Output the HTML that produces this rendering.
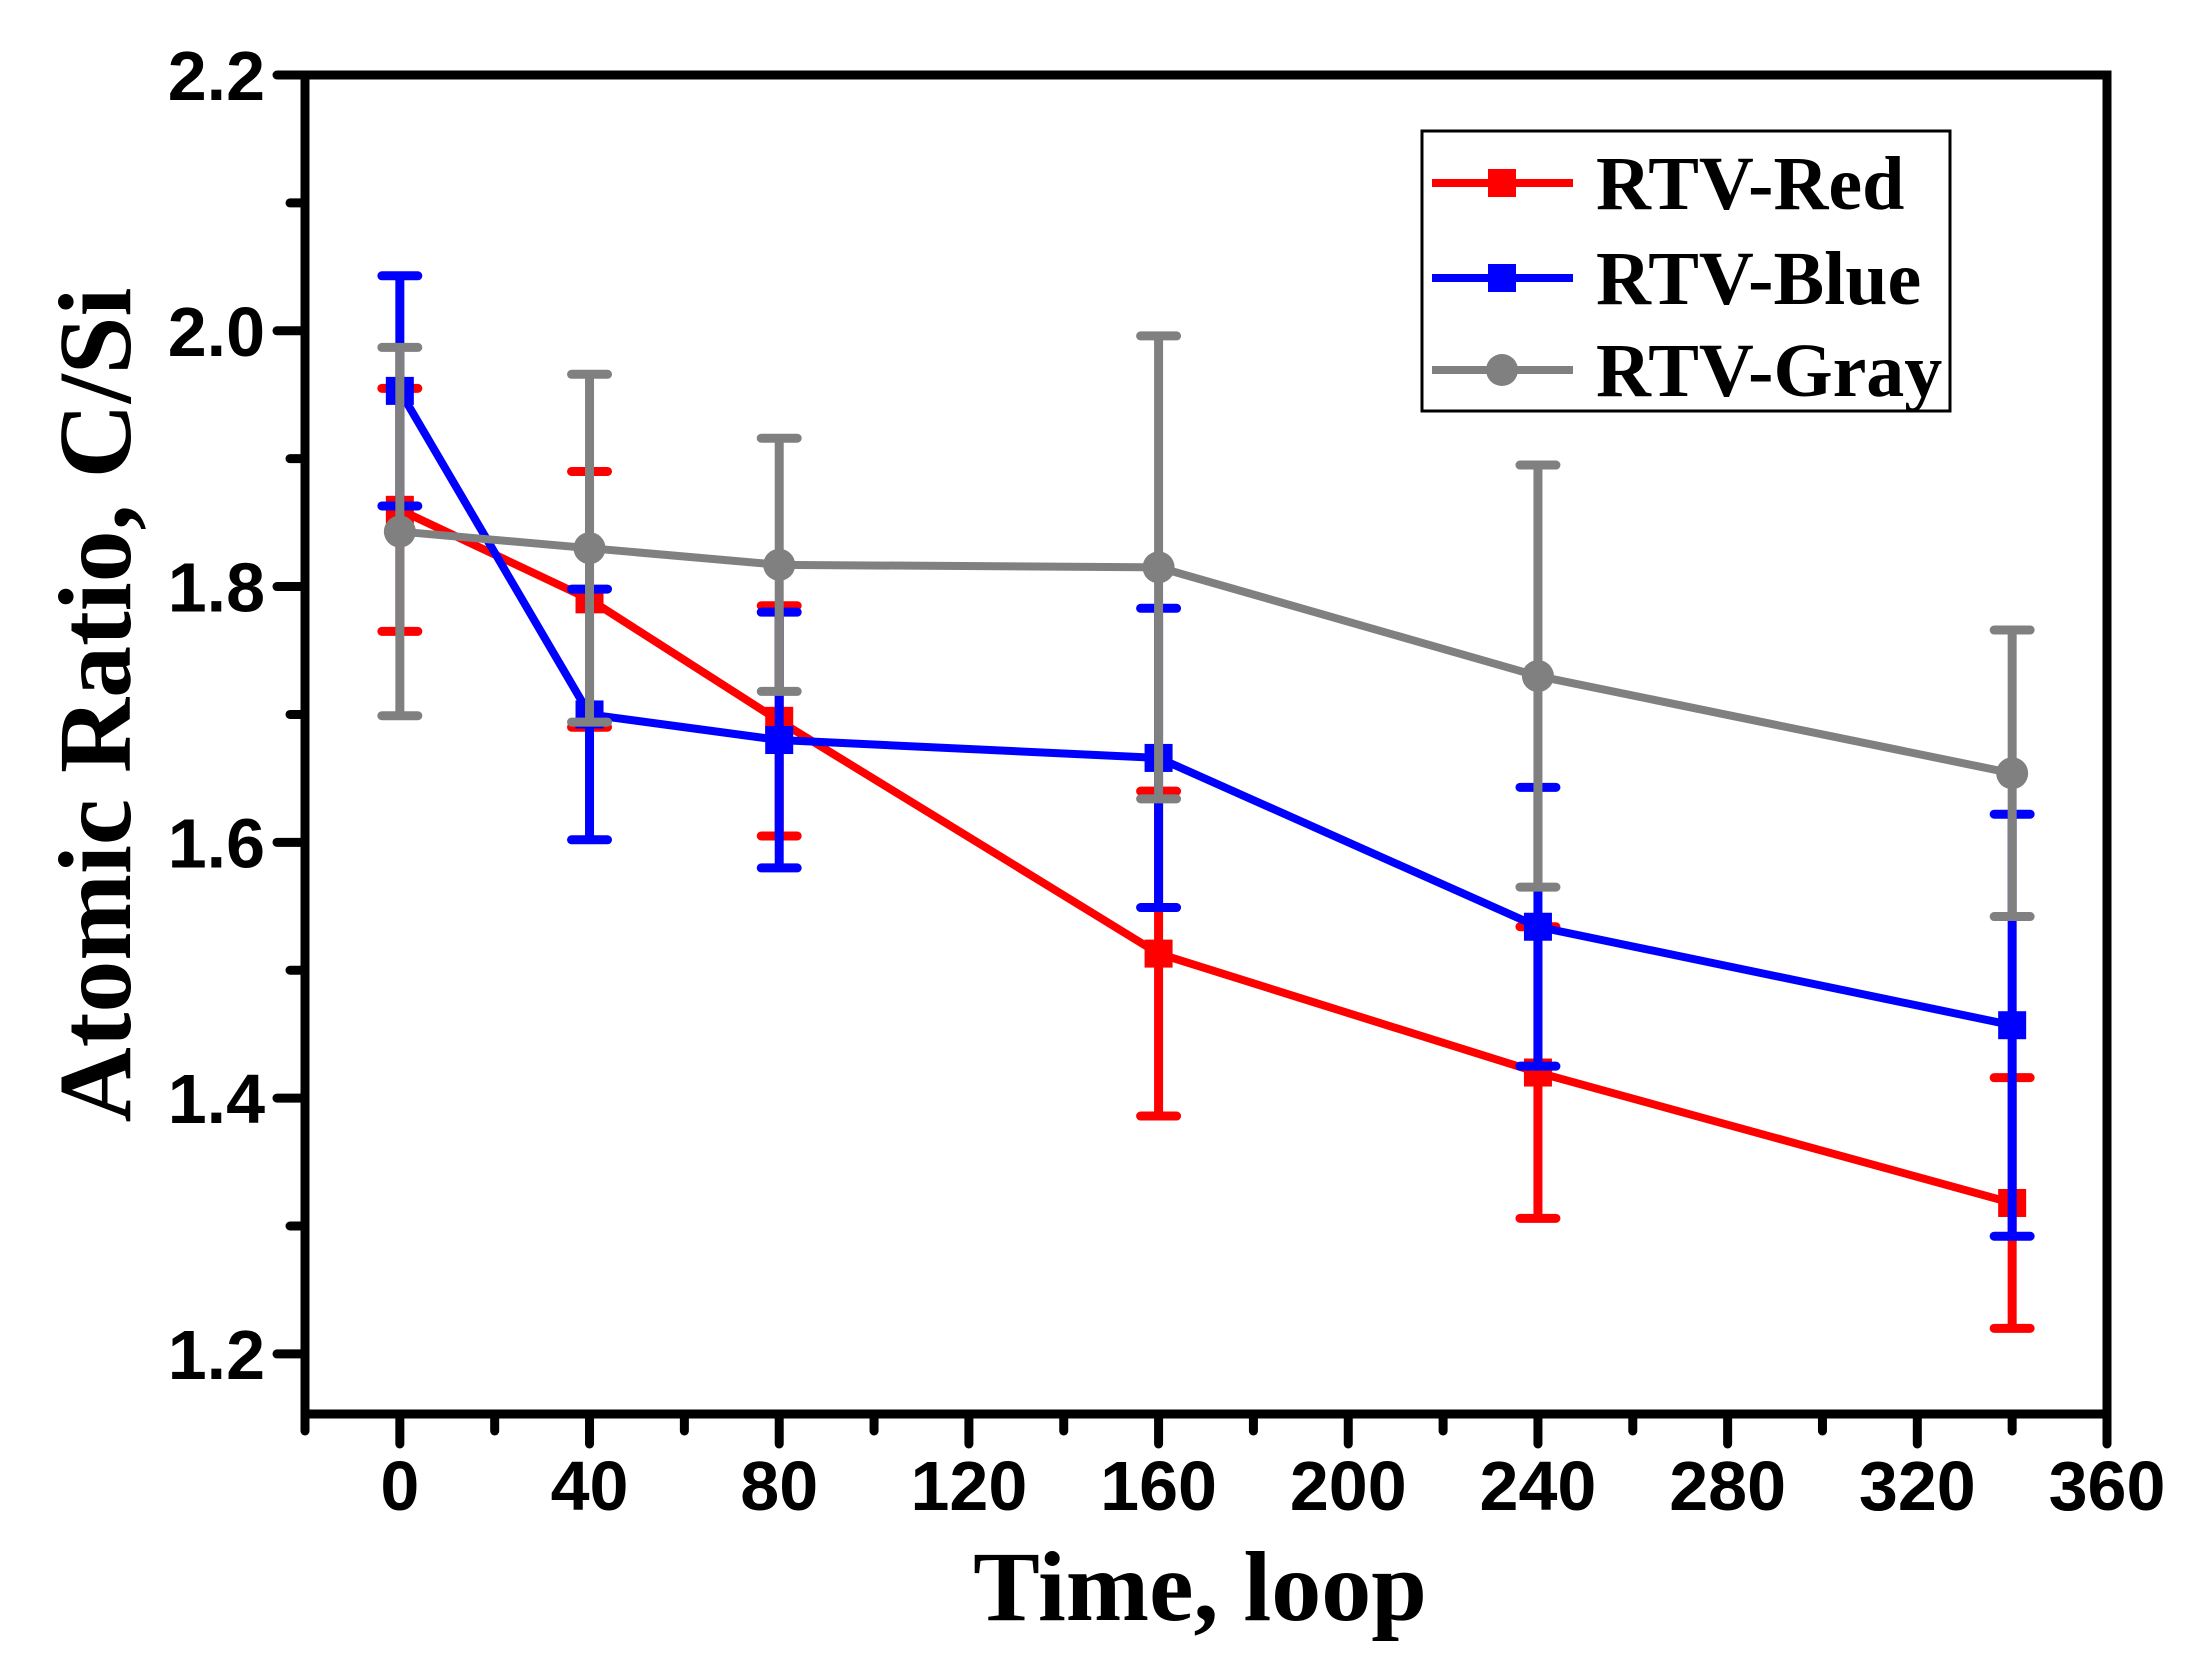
<!DOCTYPE html>
<html><head><meta charset="utf-8"><style>
html,body{margin:0;padding:0;background:#fff}
svg{display:block}
.tk{font-family:"Liberation Sans",sans-serif;font-weight:bold;font-size:70px}
.ti{font-family:"Liberation Serif",serif;font-weight:bold}
</style></head><body>
<svg id="chart" width="2201" height="1675" viewBox="0 0 2201 1675" xmlns="http://www.w3.org/2000/svg">
<g id="plot"></g>
</svg>
<script>
const xVals=[0,40,80,160,240,340];
const redY=[1.86,1.79,1.695,1.513,1.42,1.318];
const redErr=[0.095,0.1,0.09,0.127,0.114,0.098];
const blueY=[1.953,1.70,1.68,1.666,1.534,1.457];
const blueErr=[0.09,0.098,0.1,0.117,0.109,0.165];
const grayY=[1.843,1.83,1.817,1.815,1.73,1.654];
const grayErr=[0.144,0.136,0.099,0.181,0.165,0.112];
const xTicks=[0,40,80,120,160,200,240,280,320,360];
const yTicks=[1.2,1.4,1.6,1.8,2.0,2.2];
const seriesNames=["RTV-Red","RTV-Blue","RTV-Gray"];

const NS="http://www.w3.org/2000/svg";
const L=305,R=2107,T=75,B=1414;
const xmin=-20,xmax=360,ymin=1.153,ymax=2.2;
function sx(v){return L+(v-xmin)/(xmax-xmin)*(R-L);}
function sy(v){return B-(v-ymin)/(ymax-ymin)*(B-T);}
const g=document.getElementById('plot');
function mk(tag,attrs,parent){const e=document.createElementNS(NS,tag);for(const k in attrs)e.setAttribute(k,attrs[k]);(parent||g).appendChild(e);return e;}

const frame=mk('rect',{x:L,y:T,width:R-L,height:B-T,fill:'none',stroke:'#000','stroke-width':9});



xTicks.forEach((v,i)=>{
  const x=sx(v);
  const t=mk('line',{x1:x,y1:B,x2:x,y2:B+30,stroke:'#000','stroke-width':9,'stroke-linecap':'round'});
  
  
  if(i<xTicks.length-1){
    const xm=sx(v+20);
    const m=mk('line',{x1:xm,y1:B,x2:xm,y2:B+17,stroke:'#000','stroke-width':9,'stroke-linecap':'round'});
    
    
  }
  const lb=mk('text',{x:x,y:1510,'text-anchor':'middle',class:'tk'});
  lb.textContent=v;
  
  
});
{const m=mk('line',{x1:L,y1:B,x2:L,y2:B+17,stroke:'#000','stroke-width':9,'stroke-linecap':'round'});

}
yTicks.forEach((v,i)=>{
  const y=sy(v);
  const t=mk('line',{x1:L-28,y1:y,x2:L,y2:y,stroke:'#000','stroke-width':9,'stroke-linecap':'round'});
  
  
  if(i<yTicks.length-1){
    const ym=sy(v+0.1);
    const m=mk('line',{x1:L-15,y1:ym,x2:L,y2:ym,stroke:'#000','stroke-width':9,'stroke-linecap':'round'});
    
    
  }
  const lb=mk('text',{x:265,y:y+25,'text-anchor':'end',class:'tk'});
  lb.textContent=v.toFixed(1);
  
  
});

function series(ys,errs,color,marker,name){
  const grp=mk('g',{});
  
  
  xVals.forEach((v,i)=>{
    const x=sx(v),y1=sy(ys[i]-errs[i]),y2=sy(ys[i]+errs[i]);
    const e=mk('path',{d:`M${x},${y1}V${y2}M${x-18},${y1}H${x+18}M${x-18},${y2}H${x+18}`,stroke:color,'stroke-width':9,'stroke-linecap':'round',fill:'none'},grp);
    
    
  });
  const pts=xVals.map((v,i)=>sx(v)+','+sy(ys[i])).join(' ');
  const pl=mk('polyline',{points:pts,fill:'none',stroke:color,'stroke-width':8},grp);
  
  
  xVals.forEach((v,i)=>{
    const x=sx(v),y=sy(ys[i]);
    let m;
    if(marker==='sq') m=mk('rect',{x:x-14,y:y-14,width:28,height:28,fill:color},grp);
    else m=mk('circle',{cx:x,cy:y,r:16,fill:color},grp);
    
    
  });
}
series(redY,redErr,'#ff0000','sq','red');
series(blueY,blueErr,'#0000ff','sq','blue');
series(grayY,grayErr,'#808080','ci','gray');

const lg=mk('g',{});


const box=mk('rect',{x:1422,y:131,width:528,height:280,fill:'#fff',stroke:'#000','stroke-width':3},lg);


const cols=['#ff0000','#0000ff','#808080'];
const lys=[183,278,370];
seriesNames.forEach((n,i)=>{
  const e=mk('g',{},lg);
  
  
  mk('line',{x1:1432,y1:lys[i],x2:1573,y2:lys[i],stroke:cols[i],'stroke-width':8},e);
  if(i<2) mk('rect',{x:1488,y:lys[i]-14,width:28,height:28,fill:cols[i]},e);
  else mk('circle',{cx:1502,cy:lys[i],r:16,fill:cols[i]},e);
  const t=mk('text',{x:1596,y:lys[i]+26,class:'ti','font-size':76},e);
  t.textContent=n;
});

const xt=mk('text',{x:1200,y:1620,'text-anchor':'middle',class:'ti','font-size':100});
xt.textContent='Time, loop';


const yt=mk('text',{x:0,y:0,'text-anchor':'middle',class:'ti','font-size':104,transform:'translate(130,705) rotate(-90)'});
yt.textContent='Atomic Ratio, C/Si';


</script>
</body></html>
